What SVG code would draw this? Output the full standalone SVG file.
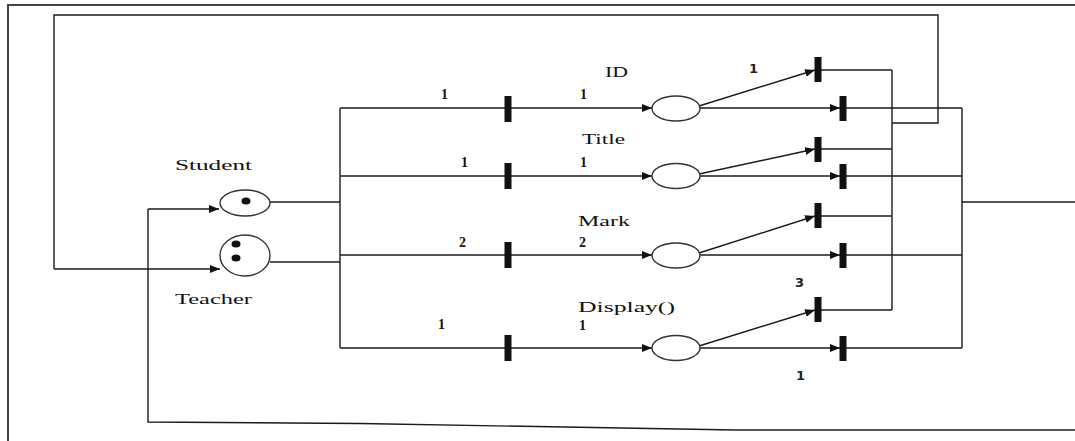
<svg xmlns="http://www.w3.org/2000/svg" width="1075" height="441" viewBox="0 0 1075 441">
  <defs>
    <marker id="arrow" viewBox="0 0 10 8" refX="10" refY="4" markerWidth="10" markerHeight="8" markerUnits="userSpaceOnUse" orient="auto">
      <path d="M0,0 L10,4 L0,8 Z" fill="#111"/>
    </marker>
  </defs>
  <style>
    .frame { fill: none; stroke: #444; stroke-width: 2; }
    .wire { fill: none; stroke: #1a1a1a; stroke-width: 1.4; }
    .arc { fill: none; stroke: #1a1a1a; stroke-width: 1.4; marker-end: url(#arrow); }
    .place { fill: #fff; stroke: #333; stroke-width: 1.4; }
    .token { fill: #111; }
    .bar { fill: #111; }
    .lbl { font-family: "Liberation Serif", "Times New Roman", serif; font-size: 14px; fill: #111; }
    .num { font-family: "Liberation Serif", "Times New Roman", serif; font-size: 14px; font-weight: bold; fill: #111; }
    .snum { font-family: "DejaVu Sans", "Liberation Sans", sans-serif; font-size: 13px; font-weight: bold; fill: #222; }
  </style>

  <rect width="1075" height="441" fill="#fff"/>

  <!-- outer frame -->
  <polyline class="frame" points="8,441 8,5 1075,5"/>

  <!-- connectors -->
  <g id="connectors">
    <!-- places Student / Teacher into the distribution bus -->
    <line class="wire" x1="270" y1="202" x2="340" y2="202"/>
    <line class="wire" x1="270" y1="262" x2="340" y2="262"/>
    <line class="wire" x1="340" y1="108" x2="340" y2="348"/>

    <!-- bus to middle transitions to places -->
    <line class="arc" x1="340" y1="108" x2="652" y2="108"/>
    <line class="arc" x1="340" y1="176" x2="652" y2="176"/>
    <line class="arc" x1="340" y1="255" x2="652" y2="255"/>
    <line class="arc" x1="340" y1="348" x2="652" y2="348"/>

    <!-- places to right transitions -->
    <line class="arc" x1="699" y1="106" x2="815" y2="70"/>
    <line class="arc" x1="700" y1="108" x2="840" y2="108"/>
    <line class="arc" x1="699" y1="174" x2="815" y2="149"/>
    <line class="arc" x1="700" y1="176" x2="840" y2="176"/>
    <line class="arc" x1="699" y1="253" x2="815" y2="216"/>
    <line class="arc" x1="700" y1="255" x2="840" y2="255"/>
    <line class="arc" x1="699" y1="346" x2="815" y2="310"/>
    <line class="arc" x1="700" y1="348" x2="840" y2="348"/>

    <!-- upper transitions: feedback to Teacher -->
    <line class="wire" x1="818" y1="70" x2="892" y2="70"/>
    <line class="wire" x1="818" y1="149" x2="892" y2="149"/>
    <line class="wire" x1="818" y1="216" x2="892" y2="216"/>
    <line class="wire" x1="818" y1="310" x2="892" y2="310"/>
    <line class="wire" x1="892" y1="70" x2="892" y2="310"/>
    <polyline class="wire" points="892,123 938,123 938,15 54,15 54,269"/>
    <line class="arc" x1="54" y1="269" x2="220" y2="269"/>

    <!-- lower transitions: return to Student -->
    <line class="wire" x1="843" y1="108" x2="962" y2="108"/>
    <line class="wire" x1="843" y1="176" x2="962" y2="176"/>
    <line class="wire" x1="843" y1="255" x2="962" y2="255"/>
    <line class="wire" x1="843" y1="348" x2="962" y2="348"/>
    <line class="wire" x1="962" y1="108" x2="962" y2="348"/>
    <line class="wire" x1="962" y1="202" x2="1075" y2="202"/>
    <polyline class="wire" points="1075,430 735,430 360,423.5 148,422 148,209"/>
    <line class="arc" x1="148" y1="209" x2="219" y2="209"/>
  </g>

  <!-- places -->
  <g id="student">
    <ellipse class="place" cx="245" cy="203" rx="25" ry="13"/>
    <ellipse class="token" cx="246" cy="201" rx="4.5" ry="3.5"/>
    <text class="lbl" x="175" y="170" textLength="77" lengthAdjust="spacingAndGlyphs">Student</text>
  </g>
  <g id="teacher">
    <ellipse class="place" cx="245" cy="255.5" rx="25" ry="20.5"/>
    <ellipse class="token" cx="236" cy="244" rx="4.5" ry="3.5"/>
    <ellipse class="token" cx="236" cy="258" rx="4.5" ry="3.5"/>
    <text class="lbl" x="175" y="304" textLength="77" lengthAdjust="spacingAndGlyphs">Teacher</text>
  </g>

  <g id="place-id">
    <ellipse class="place" cx="676" cy="108.5" rx="24" ry="12.5"/>
    <text class="lbl" x="605" y="77" textLength="23" lengthAdjust="spacingAndGlyphs">ID</text>
  </g>
  <g id="place-title">
    <ellipse class="place" cx="676" cy="176" rx="24" ry="12.5"/>
    <text class="lbl" x="582" y="144" textLength="43" lengthAdjust="spacingAndGlyphs">Title</text>
  </g>
  <g id="place-mark">
    <ellipse class="place" cx="676" cy="255.5" rx="24" ry="12.5"/>
    <text class="lbl" x="578" y="226" textLength="52" lengthAdjust="spacingAndGlyphs">Mark</text>
  </g>
  <g id="place-display">
    <ellipse class="place" cx="676" cy="348" rx="24" ry="12.5"/>
    <text class="lbl" x="578" y="312" textLength="97" lengthAdjust="spacingAndGlyphs">Display()</text>
  </g>

  <!-- middle transitions with arc weights -->
  <g id="t-id">
    <rect class="bar" x="504.5" y="96" width="7" height="26"/>
    <text class="num" x="441" y="99">1</text>
    <text class="num" x="580" y="99">1</text>
  </g>
  <g id="t-title">
    <rect class="bar" x="504.5" y="163" width="7" height="26"/>
    <text class="num" x="461" y="167">1</text>
    <text class="num" x="580" y="167">1</text>
  </g>
  <g id="t-mark">
    <rect class="bar" x="504.5" y="242" width="7" height="26"/>
    <text class="num" x="459" y="247">2</text>
    <text class="num" x="579" y="247">2</text>
  </g>
  <g id="t-display">
    <rect class="bar" x="504.5" y="335" width="7" height="26"/>
    <text class="num" x="438" y="329">1</text>
    <text class="num" x="579" y="330">1</text>
  </g>

  <!-- right-hand transitions -->
  <g id="t-id-out">
    <rect class="bar" x="814.5" y="57" width="7" height="25"/>
    <rect class="bar" x="839.5" y="96" width="7" height="25"/>
    <text class="snum" x="749" y="73">1</text>
  </g>
  <g id="t-title-out">
    <rect class="bar" x="814.5" y="137" width="7" height="25"/>
    <rect class="bar" x="839.5" y="164" width="7" height="25"/>
  </g>
  <g id="t-mark-out">
    <rect class="bar" x="814.5" y="203" width="7" height="25"/>
    <rect class="bar" x="839.5" y="243" width="7" height="25"/>
  </g>
  <g id="t-display-out">
    <rect class="bar" x="814.5" y="297" width="7" height="25"/>
    <rect class="bar" x="839.5" y="336" width="7" height="25"/>
    <text class="snum" x="795" y="287">3</text>
    <text class="snum" x="796" y="380">1</text>
  </g>
</svg>
